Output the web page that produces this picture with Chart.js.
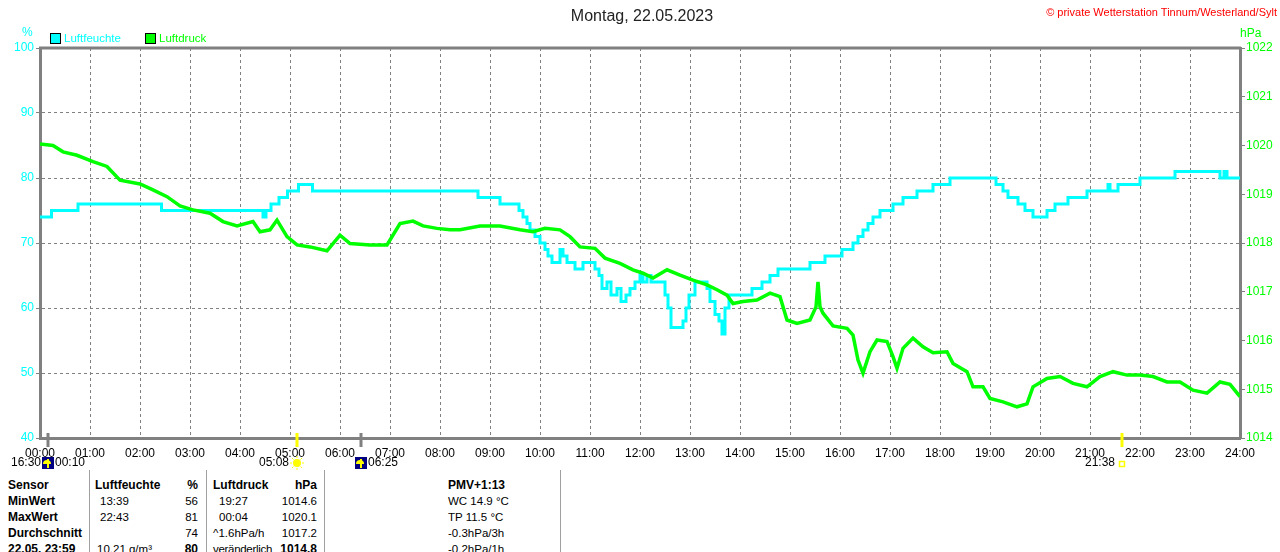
<!DOCTYPE html>
<html>
<head>
<meta charset="utf-8">
<script src="https://cdn.jsdelivr.net/npm/chart.js@4.4.0/dist/chart.umd.min.js"></script>
<style>
body { margin: 0; background: #fff; font-family: "Liberation Sans", Arial, sans-serif; }
#wrap { position: relative; width: 1280px; height: 552px; overflow: hidden; background: #fff; }
#chart { position: absolute; left: 0; top: 0; }
.t { position: absolute; white-space: nowrap; font-size: 11.5px; line-height: 14px; color: #000; }
.b { font-weight: bold; font-size: 12px; }
.vl { position: absolute; top: 470px; width: 1px; height: 82px; background: #a0a0a0; }
.box { position: absolute; width: 9px; height: 9px; border: 1px solid #000; }
</style>
</head>
<body>
<div id="wrap">
  <canvas id="chart" width="1280" height="470"></canvas>

  <div class="t" style="left:0;width:1284px;text-align:center;top:7px;font-size:16px;line-height:18px;color:#222;">Montag, 22.05.2023</div>
  <div class="t" style="right:3px;top:5px;font-size:11px;color:#ff0000;">© private Wetterstation Tinnum/Westerland/Sylt</div>

  <div class="t" style="left:22px;top:25px;font-size:12px;color:#00ffff;">%</div>
  <div class="box" style="left:50px;top:33px;background:#00ffff;"></div>
  <div class="t" style="left:64px;top:31px;color:#00ffff;">Luftfeuchte</div>
  <div class="box" style="left:145px;top:33px;background:#00ff00;"></div>
  <div class="t" style="left:159px;top:31px;color:#00ff00;">Luftdruck</div>
  <div class="t" style="left:1240px;top:26px;font-size:12px;color:#00ff00;">hPa</div>

  <div class="vl" style="left:89px;"></div>
  <div class="vl" style="left:206px;"></div>
  <div class="vl" style="left:324px;"></div>
  <div class="vl" style="left:560px;"></div>

  <div class="t b" style="left:8px;top:478px;">Sensor</div>
  <div class="t b" style="left:95px;top:478px;">Luftfeuchte</div>
  <div class="t b" style="right:1082px;top:478px;">%</div>
  <div class="t b" style="left:213px;top:478px;">Luftdruck</div>
  <div class="t b" style="right:963px;top:478px;">hPa</div>
  <div class="t b" style="left:448px;top:478px;">PMV+1:13</div>

  <div class="t b" style="left:8px;top:494px;">MinWert</div>
  <div class="t" style="left:100px;top:494px;">13:39</div>
  <div class="t" style="right:1082px;top:494px;">56</div>
  <div class="t" style="left:219px;top:494px;">19:27</div>
  <div class="t" style="right:963px;top:494px;">1014.6</div>
  <div class="t" style="left:448px;top:494px;">WC 14.9 °C</div>

  <div class="t b" style="left:8px;top:510px;">MaxWert</div>
  <div class="t" style="left:100px;top:510px;">22:43</div>
  <div class="t" style="right:1082px;top:510px;">81</div>
  <div class="t" style="left:219px;top:510px;">00:04</div>
  <div class="t" style="right:963px;top:510px;">1020.1</div>
  <div class="t" style="left:448px;top:510px;">TP 11.5 °C</div>

  <div class="t b" style="left:8px;top:526px;">Durchschnitt</div>
  <div class="t" style="right:1082px;top:526px;">74</div>
  <div class="t" style="left:213px;top:526px;">^1.6hPa/h</div>
  <div class="t" style="right:963px;top:526px;">1017.2</div>
  <div class="t" style="left:448px;top:526px;">-0.3hPa/3h</div>

  <div class="t b" style="left:8px;top:542px;">22.05. 23:59</div>
  <div class="t" style="left:97px;top:542px;">10.21 g/m³</div>
  <div class="t b" style="right:1082px;top:542px;">80</div>
  <div class="t" style="left:213px;top:542px;letter-spacing:-0.3px;">veränderlich</div>
  <div class="t b" style="right:963px;top:542px;">1014.8</div>
  <div class="t" style="left:448px;top:542px;">-0.2hPa/1h</div>
</div>

<script>
// hour labels on the x axis
const hourLabels = ['00:00','01:00','02:00','03:00','04:00','05:00','06:00','07:00','08:00',
  '09:00','10:00','11:00','12:00','13:00','14:00','15:00','16:00','17:00','18:00','19:00',
  '20:00','21:00','22:00','23:00','24:00'];

// Luftfeuchte (%), time in hours where the value changes
const humTimes = [0, 0.23, 0.76, 2.43, 4.46, 4.52, 4.62, 4.78, 4.95, 5.17, 5.45, 8.76, 9.2,
  9.58, 9.66, 9.74, 9.8, 9.9, 10.0, 10.1, 10.16, 10.24, 10.4, 10.46, 10.54, 10.7, 10.86,
  11.1, 11.18, 11.24, 11.34, 11.42, 11.54, 11.62, 11.72, 11.8, 11.9, 12.0, 12.06, 12.14,
  12.22, 12.5, 12.56, 12.62, 12.86, 12.92, 12.98, 13.1, 13.34, 13.4, 13.5, 13.58, 13.64,
  13.7, 13.78, 14.24, 14.44, 14.6, 14.76, 15.4, 15.7, 16.04, 16.26, 16.36, 16.46, 16.56,
  16.66, 16.8, 17.06, 17.26, 17.54, 17.86, 18.2, 19.12, 19.26, 19.36, 19.56, 19.7, 19.86,
  20.14, 20.3, 20.56, 20.94, 21.36, 21.4, 21.56, 22.0, 22.7, 23.6, 23.68, 23.74, 24.0];
const humValues = [74, 75, 76, 75, 74, 75, 76, 77, 78, 79, 78, 77, 76,
  75, 74, 73, 72, 71, 70, 69, 68, 67, 69, 68, 67, 66, 67,
  66, 65, 63, 64, 62, 63, 61, 62, 63, 64, 65, 64, 65,
  64, 62, 60, 57, 58, 60, 62, 64, 63, 61, 59, 58, 56,
  60, 62, 63, 64, 65, 66, 67, 68, 69, 70, 71, 72, 73,
  74, 75, 76, 77, 78, 79, 80, 79, 78, 77, 76, 75, 74,
  75, 76, 77, 78, 79, 78, 79, 80, 81, 80, 81, 80, 80];

// Luftdruck (hPa)
const pressTimes = [0, 0.26, 0.46, 0.74, 1.06, 1.34, 1.6, 2.0, 2.26, 2.54, 2.8, 3.06, 3.4,
  3.66, 3.94, 4.26, 4.4, 4.6, 4.74, 4.94, 5.14, 5.4, 5.74, 6.0, 6.2, 6.6, 6.94, 7.2, 7.46,
  7.66, 7.94, 8.2, 8.4, 8.8, 9.2, 9.6, 9.86, 10.1, 10.4, 10.6, 10.8, 11.1, 11.3, 11.6,
  11.86, 12.06, 12.26, 12.54, 12.8, 13.06, 13.34, 13.54, 13.74, 13.86, 14.06, 14.34, 14.6,
  14.8, 14.94, 15.14, 15.4, 15.52, 15.56, 15.6, 15.66, 15.86, 16.14, 16.26, 16.36, 16.46,
  16.6, 16.74, 16.94, 17.06, 17.14, 17.26, 17.46, 17.66, 17.86, 18.14, 18.26, 18.54,
  18.66, 18.86, 19.0, 19.26, 19.54, 19.74, 19.86, 20.14, 20.4, 20.66, 20.94, 21.2, 21.46,
  21.74, 22.0, 22.26, 22.54, 22.8, 23.06, 23.34, 23.6, 23.8, 24.0];
const pressValues = [1020.03, 1020.0, 1019.87, 1019.8, 1019.67, 1019.57, 1019.29, 1019.21,
  1019.09, 1018.95, 1018.76, 1018.68, 1018.61, 1018.44, 1018.35, 1018.44, 1018.23, 1018.27,
  1018.47, 1018.13, 1017.96, 1017.92, 1017.84, 1018.16, 1017.99, 1017.96, 1017.96, 1018.4,
  1018.45, 1018.35, 1018.3, 1018.27, 1018.27, 1018.35, 1018.35, 1018.27, 1018.23, 1018.3,
  1018.27, 1018.13, 1017.92, 1017.89, 1017.69, 1017.58, 1017.45, 1017.38, 1017.28, 1017.45,
  1017.34, 1017.24, 1017.14, 1017.04, 1016.93, 1016.76, 1016.8, 1016.83, 1016.97, 1016.9,
  1016.42, 1016.35, 1016.42, 1016.69, 1017.2, 1016.69, 1016.56, 1016.3, 1016.25, 1016.11,
  1015.6, 1015.33, 1015.77, 1016.01, 1015.98, 1015.67, 1015.43, 1015.84, 1016.05, 1015.87,
  1015.75, 1015.77, 1015.53, 1015.36, 1015.05, 1015.05, 1014.81, 1014.74, 1014.64, 1014.7,
  1015.05, 1015.22, 1015.26, 1015.12, 1015.05, 1015.26, 1015.36, 1015.29, 1015.29, 1015.26,
  1015.15, 1015.15, 1014.98, 1014.92, 1015.15, 1015.1, 1014.85];

// Sonne / Mond Ereignisse
const eventTimes = [10 / 60, 5 + 8 / 60, 6 + 25 / 60, 21 + 38 / 60];
const eventKinds = ['moon', 'sunrise', 'moon', 'sunset'];
const eventLeft = ['16:30', '05:08', '', '21:38'];
const eventRight = ['00:10', '', '06:25', ''];

const GREY = '#808080';

function pts(xs, ys) {
  return xs.map((x, i) => ({ x: x, y: ys[i] }));
}

const framePlugin = {
  id: 'frame',
  beforeDatasetsDraw(chart) {
    const a = chart.chartArea, ctx = chart.ctx;
    ctx.save();
    ctx.strokeStyle = GREY;
    ctx.lineWidth = 3;
    ctx.beginPath();
    ctx.moveTo(a.left - 1, a.top);
    ctx.lineTo(a.right + 1, a.top);
    ctx.stroke();
    ctx.restore();
  },
  afterDraw(chart) {
    const a = chart.chartArea, ctx = chart.ctx, xs = chart.scales.x;
    ctx.save();
    ctx.font = '12px "Liberation Sans", Arial, sans-serif';
    ctx.textBaseline = 'middle';
    ctx.fillStyle = '#000';
    eventTimes.forEach((t, i) => {
      const px = Math.round(xs.getPixelForValue(t));
      const kind = eventKinds[i];
      ctx.strokeStyle = kind === 'moon' ? GREY : '#ffff00';
      ctx.lineWidth = 3;
      ctx.beginPath();
      ctx.moveTo(px, a.bottom - 5);
      ctx.lineTo(px, a.bottom + 9);
      ctx.stroke();

      const cy = a.bottom + 25;
      let halfW = 6;
      if (kind === 'moon') {
        ctx.fillStyle = '#000080';
        ctx.fillRect(px - 6, cy - 6, 12, 12);
        ctx.fillStyle = '#ffff00';
        ctx.beginPath();
        ctx.arc(px - 1, cy + 1, 4, Math.PI, 0);
        ctx.fill();
        ctx.fillRect(px - 1, cy - 4, 2, 9);
      } else if (kind === 'sunrise') {
        ctx.fillStyle = '#ffff00';
        ctx.beginPath();
        ctx.arc(px, cy, 4, 0, Math.PI * 2);
        ctx.fill();
        ctx.strokeStyle = '#ffff00';
        ctx.lineWidth = 1;
        for (let k = 0; k < 8; k++) {
          const ang = k * Math.PI / 4;
          ctx.beginPath();
          ctx.moveTo(px + Math.cos(ang) * 5, cy + Math.sin(ang) * 5);
          ctx.lineTo(px + Math.cos(ang) * 7, cy + Math.sin(ang) * 7);
          ctx.stroke();
        }
        halfW = 7;
      } else {
        ctx.strokeStyle = '#ffff00';
        ctx.lineWidth = 1.5;
        ctx.strokeRect(px - 2.5, cy - 1.5, 5, 5);
        halfW = 6;
      }
      ctx.fillStyle = '#000';
      if (eventLeft[i]) {
        ctx.textAlign = 'right';
        ctx.fillText(eventLeft[i], px - halfW - 1, cy);
      }
      if (eventRight[i]) {
        ctx.textAlign = 'left';
        ctx.fillText(eventRight[i], px + halfW + 1, cy);
      }
    });
    ctx.restore();
  }
};

Chart.defaults.font.family = '"Liberation Sans", Arial, sans-serif';
Chart.defaults.font.size = 12;

new Chart(document.getElementById('chart'), {
  type: 'line',
  data: {
    datasets: [{
      label: 'Luftfeuchte',
      data: pts(humTimes, humValues),
      yAxisID: 'yL',
      borderColor: '#00ffff',
      borderWidth: 3,
      stepped: true,
      pointRadius: 0,
      order: 2
    }, {
      label: 'Luftdruck',
      data: pts(pressTimes, pressValues),
      yAxisID: 'yR',
      borderColor: '#00ff00',
      borderWidth: 3.5,
      tension: 0,
      pointRadius: 0,
      order: 1
    }]
  },
  options: {
    responsive: false,
    animation: false,
    layout: { padding: { top: 48, left: 0, right: 0, bottom: 0 } },
    plugins: {
      legend: { display: false },
      tooltip: { enabled: false }
    },
    scales: {
      x: {
        type: 'linear',
        min: 0,
        max: 24,
        afterFit: s => { s.height = 32; },
        afterBuildTicks: s => { s.ticks = hourLabels.map((l, i) => ({ value: i })); },
        ticks: {
          autoSkip: false,
          maxRotation: 0,
          padding: 8,
          color: '#000',
          callback: v => hourLabels[v]
        },
        grid: { color: GREY, lineWidth: 1, drawTicks: false },
        border: { color: GREY, width: 3, dash: [3, 3] }
      },
      yL: {
        type: 'linear',
        position: 'left',
        min: 40,
        max: 100,
        afterFit: s => { s.width = 40; },
        ticks: { stepSize: 10, color: '#00ffff', padding: 2, callback: v => String(v) },
        grid: { color: GREY, lineWidth: 1, tickLength: 4, tickColor: GREY },
        border: { color: GREY, width: 3, dash: [3, 3] }
      },
      yR: {
        type: 'linear',
        position: 'right',
        min: 1014,
        max: 1022,
        afterFit: s => { s.width = 40; },
        ticks: { stepSize: 1, color: '#00ff00', padding: 1, callback: v => String(v) },
        grid: { drawOnChartArea: false, tickLength: 5, tickColor: GREY },
        border: { color: GREY, width: 3 }
      }
    }
  },
  plugins: [framePlugin]
});
</script>
</body>
</html>
